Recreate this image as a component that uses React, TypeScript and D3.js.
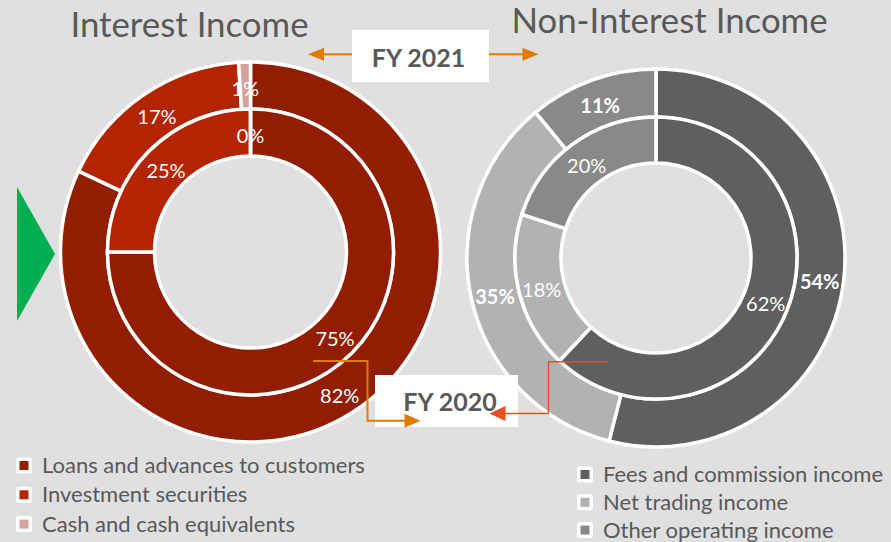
import React from 'react';
import * as d3 from 'd3';

const interestCategories = ['Loans and advances to customers', 'Investment securities', 'Cash and cash equivalents'];
const interestFY2021 = [82, 17, 1];
const interestFY2020 = [75, 25, 0];
const nonInterestCategories = ['Fees and commission income', 'Net trading income', 'Other operating income'];
const nonInterestFY2021 = [54, 35, 11];
const nonInterestFY2020 = [62, 18, 20];
const interestColors = ['#921D00', '#B32500', '#D5A29F'];
const nonInterestColors = ['#5F5F5F', '#B2B2B2', '#898989'];
const yearLabels = ['FY 2021', 'FY 2020'];
const titles = ['Interest Income', 'Non-Interest Income'];

const FONT = 'Lato, "Open Sans", sans-serif';
const TEXT = '#595959';
const ORANGE = '#E17C00';
const RED = '#E8501E';

type DonutProps = {
  cx: number; cy: number; rHole: number; rMid: number; rOuter: number;
  outer: number[]; inner: number[]; colors: string[]; outerBold: boolean;
};

function Donut({ cx, cy, rHole, rMid, rOuter, outer, inner, colors, outerBold }: DonutProps) {
  const pie = d3.pie<number>().sort(null).value(d => d).startAngle(0).endAngle(2 * Math.PI);
  const outerArc = d3.arc<d3.PieArcDatum<number>>().innerRadius(rMid).outerRadius(rOuter);
  const innerArc = d3.arc<d3.PieArcDatum<number>>().innerRadius(rHole).outerRadius(rMid);
  const po = pie(outer);
  const pi = pie(inner);
  return (
    <g transform={`translate(${cx},${cy})`}>
      {po.map((d, i) => (
        <path key={'o' + i} d={outerArc(d) || ''} fill={colors[i]} stroke="#fff" strokeWidth={3.5} strokeLinejoin="miter" />
      ))}
      {pi.map((d, i) => (
        <path key={'i' + i} d={innerArc(d) || ''} fill={colors[i]} stroke="#fff" strokeWidth={3.5} strokeLinejoin="miter" />
      ))}
      {po.map((d, i) => {
        const [x, y] = outerArc.centroid(d);
        return (
          <text key={'lo' + i} x={x} y={y + 3} dy="0.35em" textAnchor="middle" fill="#fff"
            fontFamily={FONT} fontSize={20} fontWeight={outerBold ? 700 : 400}>{d.data}%</text>
        );
      })}
      {pi.map((d, i) => {
        const [x, y] = innerArc.centroid(d);
        return (
          <text key={'li' + i} x={x} y={y + 3} dy="0.35em" textAnchor="middle" fill="#fff"
            fontFamily={FONT} fontSize={20} fontWeight={400}>{d.data}%</text>
        );
      })}
    </g>
  );
}

function Legend({ x, y, step, items, colors }: { x: number; y: number; step: number; items: string[]; colors: string[] }) {
  return (
    <g>
      {items.map((t, i) => (
        <g key={t} transform={`translate(${x},${y + i * step})`}>
          <rect x={0} y={0} width={16} height={16} rx={2.5} fill="#fff" />
          <rect x={3.5} y={3.5} width={9} height={9} fill={colors[i]} />
          <text x={26} y={15.5} fill={TEXT} fontFamily={FONT} fontSize={22}>{t}</text>
        </g>
      ))}
    </g>
  );
}

function ArrowHead({ x, y, dir, len, half, color }: { x: number; y: number; dir: number; len: number; half: number; color: string }) {
  const bx = x - dir * len;
  return <path d={`M${x},${y}L${bx},${y - half}L${bx},${y + half}Z`} fill={color} />;
}

export default function App() {
  const W = 891, H = 542;
  return (
    <div style={{ position: 'fixed', left: 0, top: 0, width: W, height: H }}>
      <svg width={W} height={H} viewBox={`0 0 ${W} ${H}`} style={{ display: 'block' }}>
        <rect x={0} y={0} width={W} height={H} fill="#E0E0E0" />

        <text x={189.5} y={37} textAnchor="middle" fill={TEXT} fontFamily={FONT} fontSize={34.8}>{titles[0]}</text>
        <text x={669.5} y={33} textAnchor="middle" fill={TEXT} fontFamily={FONT} fontSize={34.8}>{titles[1]}</text>

        <path d="M17,187L55,254L17,321Z" fill="#00B050" />

        <Donut cx={250.5} cy={252} rHole={96} rMid={143} rOuter={190}
          outer={interestFY2021} inner={interestFY2020} colors={interestColors} outerBold={false} />
        <Donut cx={656} cy={258} rHole={95} rMid={141} rOuter={189}
          outer={nonInterestFY2021} inner={nonInterestFY2020} colors={nonInterestColors} outerBold={true} />

        <line x1={352} y1={54.3} x2={322} y2={54.3} stroke={ORANGE} strokeWidth={2} />
        <ArrowHead x={308} y={54.3} dir={-1} len={16} half={6.5} color={ORANGE} />
        <line x1={489} y1={54.3} x2={524} y2={54.3} stroke={ORANGE} strokeWidth={2} />
        <ArrowHead x={538.5} y={54.3} dir={1} len={16} half={6.5} color={ORANGE} />
        <rect x={352} y={30} width={137} height={52} fill="#fff" />
        <text x={418.5} y={66.7} textAnchor="middle" fill={TEXT} fontFamily={FONT} fontSize={25} fontWeight={700}>{yearLabels[0]}</text>

        <rect x={375} y={375} width={143} height={52} fill="#fff" />
        <text x={450} y={410.7} textAnchor="middle" fill={TEXT} fontFamily={FONT} fontSize={25} fontWeight={700}>{yearLabels[1]}</text>

        <path d="M313,361H367.5V420.7H406" fill="none" stroke={ORANGE} strokeWidth={2} />
        <ArrowHead x={420.5} y={420.7} dir={1} len={16} half={7} color={ORANGE} />

        <path d="M608.5,361.7H548.5V413.5H503" fill="none" stroke={RED} strokeWidth={1.4} />
        <ArrowHead x={489.5} y={413.5} dir={-1} len={16} half={7.5} color={RED} />

        <Legend x={16} y={457.5} step={29.3} items={interestCategories} colors={interestColors} />
        <Legend x={577} y={466.5} step={27.8} items={nonInterestCategories} colors={nonInterestColors} />
      </svg>
    </div>
  );
}
